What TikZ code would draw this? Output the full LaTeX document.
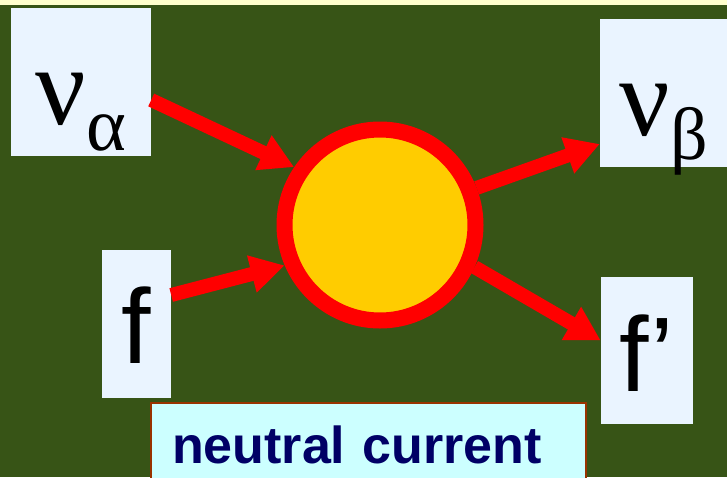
\documentclass[tikz,border=0pt]{standalone}
\usepackage{fontspec}
\setmainfont{Liberation Serif}
\setsansfont{Liberation Sans}
\usepackage{tikz}
\usetikzlibrary{arrows.meta}
\definecolor{slideGreen} {HTML}{375416}
\definecolor{slideCream} {HTML}{FFFFCC}
\definecolor{cardFill}   {HTML}{EAF4FF}
\definecolor{blobFill}   {HTML}{FFCC00}
\definecolor{flowRed}    {HTML}{FF0000}
\definecolor{tagFill}    {HTML}{CCFFFF}
\definecolor{tagEdge}    {HTML}{993300}
\definecolor{tagText}    {HTML}{000066}

\begin{document}
\begin{tikzpicture}[x=1pt, y=-1pt,
    card/.style={fill=cardFill, inner sep=0pt, text height=#1},
    flow/.style={draw=flowRed, line width=14pt,
                 -{Triangle[length=34pt, width=36pt]}}]
  \useasboundingbox (0,0) rectangle (727,477);
  \fill[slideGreen] (0,5) rectangle (727,477);
  \fill[slideCream] (0,0) rectangle (727,5);

  % particle cards
  \node[card=116pt, text depth=32pt, minimum width=140pt] (nua) at (81,82)
        {\fontsize{112}{112}\selectfont ν\raisebox{-26pt}{\fontsize{76}{76}\selectfont α}};
  \node[card=116pt, text depth=32pt, minimum width=127pt] (nub) at (663.5,93)
        {\fontsize{112}{112}\selectfont ν\raisebox{-24pt}{\fontsize{74}{74}\selectfont β}};
  \node[card=113pt, text depth=35pt, minimum width=69pt,
        font=\sffamily\fontsize{106}{106}\selectfont] (fin) at (136.5,324) {f};
  \node[card=114pt, text depth=33pt, minimum width=92pt,
        font=\sffamily\fontsize{106}{106}\selectfont] (fout) at (647,350.5) {f’};

  % interaction blob
  \node[circle, draw=flowRed, line width=16pt, fill=blobFill,
        inner sep=0pt, minimum size=191pt] (ring) at (380,225) {};

  \draw[flow] ([yshift=-18pt]nua.east) -- (ring.146);
  \draw[flow] ([yshift=29pt]fin.east) -- (ring.203);
  \draw[flow] (ring.21) -- ([yshift=-51pt]nub.west);
  \draw[flow] (ring.-24) -- ([yshift=10pt]fout.west);

  \node[draw=tagEdge, line width=2pt, fill=tagFill, anchor=north west,
        inner xsep=21pt, inner ysep=0pt, text width=393pt, align=left,
        text height=60pt, text depth=30pt, text=tagText,
        font=\sffamily\bfseries\fontsize{52}{52}\selectfont] (tag) at (150,402)
        {neutral current};
\end{tikzpicture}
\end{document}
